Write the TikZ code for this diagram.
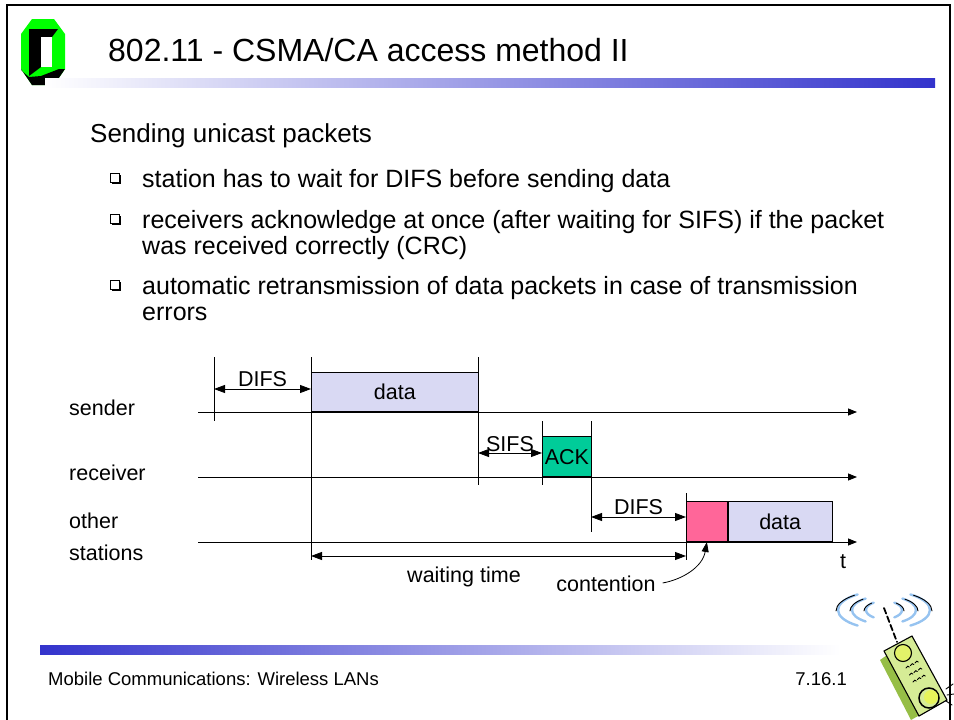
\documentclass[tikz,border=0pt]{standalone}
\usepackage{fontspec}
\setmainfont{Liberation Sans}
\usetikzlibrary{arrows.meta,positioning,shadows}

\definecolor{datafill}{RGB}{217,217,243}
\definecolor{ackfill}{RGB}{0,204,153}
\definecolor{contfill}{RGB}{255,102,153}
\definecolor{barblue}{RGB}{51,51,204}
\definecolor{logogreen}{RGB}{0,255,0}
\definecolor{phonegreen}{RGB}{214,236,150}
\definecolor{phonedark}{RGB}{150,190,70}
\definecolor{waveblue}{RGB}{150,195,240}

\tikzset{
	title/.style={font=\fontsize{32}{38}\selectfont, anchor=west, inner sep=0pt},
	heading/.style={font=\fontsize{26}{31}\selectfont, anchor=west, inner sep=0pt},
	bullettext/.style={font=\fontsize{25}{26}\selectfont, anchor=base west, inner sep=0pt},
	sqbullet/.style={draw, fill=white, line width=1pt, minimum size=8.5pt, inner sep=0pt,
		drop shadow={shadow xshift=1.6pt, shadow yshift=-1.6pt, opacity=1, fill=black}},
	lbl/.style={font=\fontsize{21.5}{32}\selectfont, inner sep=1pt},
	foot/.style={font=\fontsize{18.5}{22}\selectfont, inner sep=0pt},
	box/.style={draw, line width=0.8pt, inner sep=0pt, anchor=south west, lbl},
	tick/.style={line width=0.8pt},
	axis/.style={line width=0.8pt, -{Triangle[length=9pt,width=7pt]}},
	span/.style={line width=0.8pt, {Triangle[length=11pt,width=8pt]}-{Triangle[length=11pt,width=8pt]}},
}

\begin{document}
\begin{tikzpicture}[x=1pt, y=-1pt]
	\useasboundingbox (0,0) rectangle (954,720);
	\draw[line width=1.6pt] (7,720) -- (7,5) -- (950,5) -- (950,720);

	% logo
	\begin{scope}[shift={(21,19)}]
		\fill[logogreen] (11,0) -- (33,0) -- (44,15) -- (44,50) -- (33,66) -- (11,66) -- (0,50) -- (0,15) -- cycle;
		\fill[black] (0,50) -- (11,66) -- (33,66) -- (44,50) -- (38,50) -- (20,57) -- (8,58) -- (1,52) -- cycle;
		\fill[black] (8,10) -- (37,10) -- (31,18) -- (20,18) -- (20,48) -- (8,57) -- cycle;
		\fill[white] (20,18) rectangle (31,48);
	\end{scope}

	\node[title] (title) at (108,50) {802.11 - CSMA/CA access method II};
	\shade[left color=white, right color=barblue] (45,78) rectangle (935,87);

	\node[heading] (heading) at (90,136) {Sending unicast packets};
	\foreach \y/\name in {178/q1, 219/q2, 285/q3}
		\node[sqbullet] (\name) at (115,\y) {};
	\node[bullettext] (b1) at (142,187) {station has to wait for DIFS before sending data};
	\node[bullettext] (b2) at (142,228) {receivers acknowledge at once (after waiting for SIFS) if the packet};
	\node[bullettext] (b2x) at (142,254) {was received correctly (CRC)};
	\node[bullettext] (b3) at (142,294) {automatic retransmission of data packets in case of transmission};
	\node[bullettext] (b3x) at (142,320) {errors};

	% time lines
	\node[lbl, anchor=west] (sender) at (68,408) {sender};
	\node[lbl, anchor=west] (receiver) at (68,473) {receiver};
	\node[lbl, anchor=west, align=left] (others) at (68,537) {other\\stations};
	\foreach \y/\name in {412/s, 477/r, 542/o}
	{
		\coordinate (\name0) at (198,\y);
		\coordinate (\name1) at (857,\y);
		\draw[axis] (\name0) -- (\name1);
	}
	\node[lbl, anchor=center] (t) at (843,562) {t};

	% frames on the lines
	\node[box, fill=datafill, minimum width=167pt, minimum height=39pt] (sdata) at (311,412) {data};
	\node[box, fill=ackfill, minimum width=49pt, minimum height=40pt, text depth=-5pt] (ack) at (542,477) {ACK};
	\node[box, fill=contfill, minimum width=41pt, minimum height=40pt] (cont) at (686,542) {};
	\node[box, fill=datafill, minimum width=104pt, minimum height=40pt, right=0pt of cont] (odata) {data};

	% ticks
	\foreach \x/\ya/\yb/\name in {214/357/421/k1, 311/357/560/k2, 478/357/485/k3, 542/421/485/k4, 591/421/532/k5, 686/493/560/k6}
	{
		\coordinate (\name a) at (\x,\ya);
		\coordinate (\name b) at (\x,\yb);
		\draw[tick] (\name a) -- (\name b);
	}

	% intervals
	\coordinate (d1a) at (214,389); \coordinate (d1b) at (311,389);
	\coordinate (sia) at (478,453); \coordinate (sib) at (542,453);
	\coordinate (d2a) at (591,517); \coordinate (d2b) at (686,517);
	\coordinate (wta) at (311,556); \coordinate (wtb) at (686,556);
	\draw[span] (d1a) -- node[lbl, above=1pt] (difs1) {DIFS} (d1b);
	\draw[span] (sia) -- node[lbl, above=0pt] (sifs) {SIFS} (sib);
	\draw[span] (d2a) -- node[lbl, above=1pt] (difs2) {DIFS} (d2b);
	\draw[span] (wta) -- (wtb);
	\node[lbl] (wait) at (464,577) {waiting time};

	\node[lbl] (contention) at (606,584) {contention};
	\draw[line width=0.8pt, -{Triangle[length=10pt,width=7pt]}, shorten <=6pt]
		(contention.east) to[out=10, in=-100] (cont.south);

	% footer
	\shade[left color=barblue, right color=white] (40,645) rectangle (840,654);
	\node[foot, anchor=west] (footl) at (48,679) {Mobile Communications: Wireless LANs};
	\node[foot, anchor=east] (footr) at (847,679) {7.16.1};

	% phone
	\begin{scope}[line cap=round]
		\foreach \r in {1,2,3}
		{
			\draw[waveblue, line width=2.4pt] (884,610) ++(-14*\r-4,0) arc[start angle=180, end angle=235, x radius=14*\r+4, y radius=5*\r+4];
			\draw[waveblue, line width=2.4pt] (884,610) ++(-14*\r-4,0) arc[start angle=180, end angle=125, x radius=14*\r+4, y radius=5*\r+4];
			\draw[waveblue, line width=2.4pt] (884,610) ++(14*\r+4,0) arc[start angle=0, end angle=55, x radius=14*\r+4, y radius=5*\r+4];
			\draw[waveblue, line width=2.4pt] (884,610) ++(14*\r+4,0) arc[start angle=0, end angle=-55, x radius=14*\r+4, y radius=5*\r+4];
			\draw[line width=0.9pt] (884,610) ++(-14*\r-6,1) arc[start angle=180, end angle=232, x radius=14*\r+6, y radius=5*\r+5];
			\draw[line width=0.9pt] (884,610) ++(14*\r+6,1) arc[start angle=0, end angle=-52, x radius=14*\r+6, y radius=5*\r+5];
		}
		\draw[line width=1.8pt, dash pattern=on 6pt off 3pt] (884,608) -- (897,642);
		\fill[phonedark] (880,660) -- (903,644) -- (934,707) -- (911,720) -- cycle;
		\draw[line width=1.1pt, fill=phonegreen] (884,651) -- (912,636) -- (947,700) -- (919,716) -- cycle;
		\draw[line width=1.1pt, fill=phonegreen!70!yellow] (903,653) circle[radius=8.5];
		\draw[line width=1.5pt] (929,698) circle[radius=10];
		\fill[phonegreen!60!yellow] (931,697) circle[radius=7];
		\foreach \i in {0,1,2}
			\foreach \j in {0,1,2}
				\draw[line width=0.9pt] (906+4.5*\i+3.5*\j,668+7*\j-2.5*\i) arc[start angle=180, end angle=330, radius=1.8];
		\draw[line width=0.9pt] (946,689) -- (953,684);
		\draw[line width=0.9pt] (947,695) -- (954,694);
		\draw[line width=0.9pt] (946,701) -- (952,705);
	\end{scope}
\end{tikzpicture}
\end{document}
